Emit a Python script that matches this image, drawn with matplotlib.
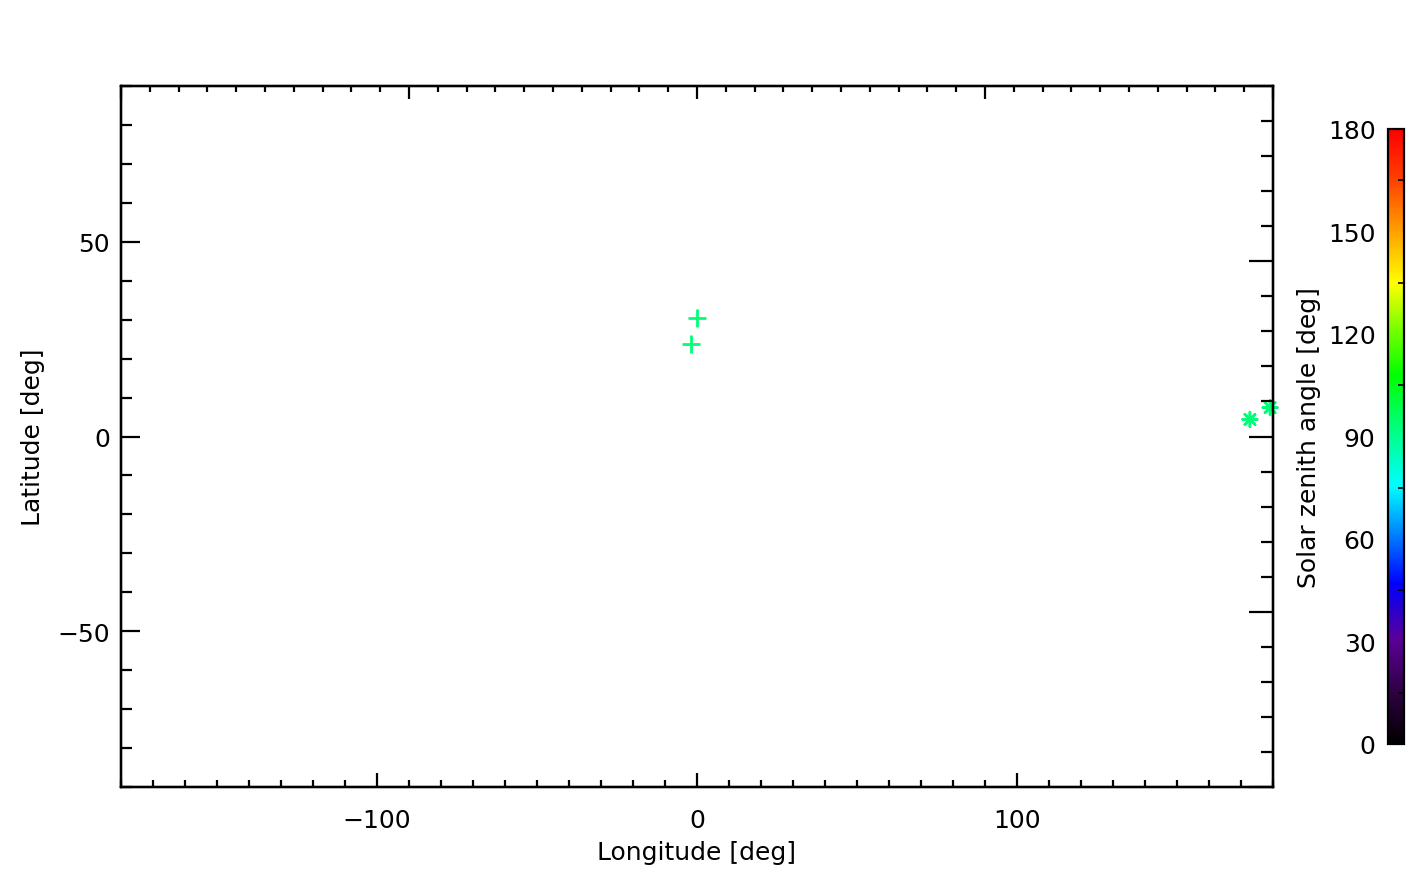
import numpy as np
import matplotlib
matplotlib.use('Agg')
import matplotlib.pyplot as plt
from matplotlib.colors import LinearSegmentedColormap, Normalize
from matplotlib.ticker import MultipleLocator

# data
plus_lon = [0.0, -1.9]
plus_lat = [30.5, 23.8]
plus_sza = [93.0, 93.0]
star_lon = [172.8, 179.1]
star_lat = [4.4, 7.4]
star_sza = [93.0, 93.0]
cbar_ticks = [0, 30, 60, 90, 120, 150, 180]

# IDL-like rainbow with black at the bottom
cmap = LinearSegmentedColormap.from_list('idl_rainbow', [
    (0.00, (0.0, 0.0, 0.0)),
    (0.08, (0.18, 0.0, 0.25)),
    (0.17, (0.35, 0.0, 0.6)),
    (0.26, (0.0, 0.0, 1.0)),
    (0.34, (0.0, 0.5, 1.0)),
    (0.42, (0.0, 1.0, 1.0)),
    (0.52, (0.0, 1.0, 0.45)),
    (0.60, (0.0, 1.0, 0.0)),
    (0.68, (0.5, 1.0, 0.0)),
    (0.75, (1.0, 1.0, 0.0)),
    (0.83, (1.0, 0.65, 0.0)),
    (0.92, (1.0, 0.25, 0.0)),
    (1.00, (1.0, 0.0, 0.0)),
])
norm = Normalize(0, 180)

FS = 18
plt.rcParams['font.family'] = ['DejaVu Sans']
fig = plt.figure(figsize=(14.1, 8.78), dpi=100)
ax = fig.add_axes([0.0858, 0.1025, 0.817, 0.7984])

ax.scatter(plus_lon, plus_lat, c=plus_sza, cmap=cmap, norm=norm,
           marker='+', s=170, linewidths=2.0, clip_on=False)
ax.scatter(star_lon, star_lat, c=star_sza, cmap=cmap, norm=norm,
           marker=(8, 2, 0), s=110, linewidths=1.8, clip_on=False)

ax.set_xlim(-180, 180)
ax.set_ylim(-90, 90)
ax.set_xticks([-100, 0, 100])
ax.set_yticks([-50, 0, 50])
ax.xaxis.set_minor_locator(MultipleLocator(10))
ax.yaxis.set_minor_locator(MultipleLocator(10))
ax.set_xticklabels(['\u2212100', '0', '100'])
ax.set_yticklabels(['\u221250', '0', '50'])
for s in ax.spines.values():
    s.set_linewidth(1.6)
ax.tick_params(axis='x', which='major', direction='in', length=10, width=1.6,
               labelsize=FS, pad=15, top=False)
ax.tick_params(axis='x', which='minor', direction='in', length=5, width=1.6, top=False)
ax.tick_params(axis='y', which='major', direction='in', length=14, width=1.6,
               labelsize=FS, pad=8, right=False)
ax.tick_params(axis='y', which='minor', direction='in', length=8, width=1.6, right=False)
ax.set_xlabel('Longitude [deg]', fontsize=FS, labelpad=6)
ax.set_ylabel('Latitude [deg]', fontsize=FS, labelpad=9)

# top axis with its own tick spacing, no labels
axt = ax.twiny()
axt.set_xlim(-180, 180)
axt.xaxis.set_major_locator(MultipleLocator(90))
axt.xaxis.set_minor_locator(MultipleLocator(9))
axt.tick_params(axis='x', which='major', direction='in', length=9, width=1.6,
                labeltop=False, top=True, bottom=False)
axt.tick_params(axis='x', which='minor', direction='in', length=4, width=1.6,
                top=True, bottom=False)
# right axis with its own tick spacing, no labels
axr = ax.twinx()
axr.set_ylim(-90, 90)
axr.yaxis.set_major_locator(MultipleLocator(45))
axr.yaxis.set_minor_locator(MultipleLocator(9))
axr.tick_params(axis='y', which='major', direction='in', length=17, width=1.6,
                labelright=False, right=True, left=False)
axr.tick_params(axis='y', which='minor', direction='in', length=9, width=1.6,
                right=True, left=False)
for a in (axt, axr):
    for s in a.spines.values():
        s.set_linewidth(1.6)

# colorbar
cax = fig.add_axes([0.9844, 0.1515, 0.01135, 0.7005])
sm = plt.cm.ScalarMappable(norm=norm, cmap=cmap)
cb = fig.colorbar(sm, cax=cax)
cb.outline.set_linewidth(1.6)
cb.set_ticks(cbar_ticks)
cax.yaxis.set_ticks_position('left')
cax.yaxis.set_label_position('left')
cax.tick_params(axis='y', which='major', length=0, labelsize=FS, pad=9)
cax.yaxis.set_minor_locator(MultipleLocator(15))
cax.tick_params(axis='y', which='minor', right=True, left=False, direction='in',
                length=4, width=1.2)
cb.set_label('Solar zenith angle [deg]', fontsize=FS, labelpad=5)

fig.savefig('out.png', dpi=100)
